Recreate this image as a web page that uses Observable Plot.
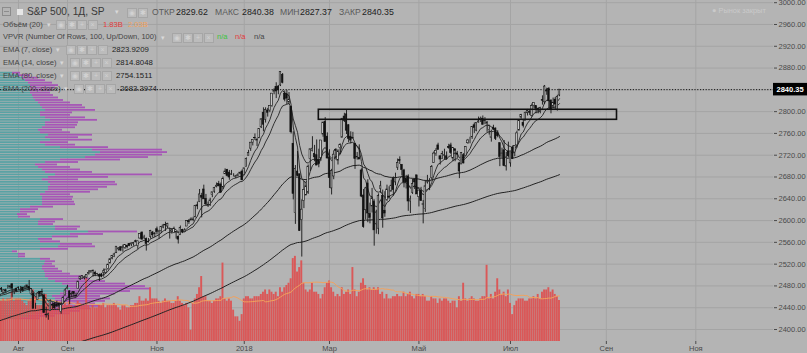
<!DOCTYPE html>
<html><head><meta charset="utf-8">
<script src="https://cdn.jsdelivr.net/npm/d3@7"></script>
<script src="https://cdn.jsdelivr.net/npm/@observablehq/plot@0.6"></script>
<style>
html,body{margin:0;padding:0;background:#b4b4b4;}
#wrap{position:relative;width:807px;height:353px;overflow:hidden;background:#b4b4b4;font-family:"Liberation Sans",Arial,sans-serif;}
#wrap svg{position:absolute;left:0;top:0;}
.t{position:absolute;white-space:nowrap;line-height:1;}
.ic{position:absolute;width:8px;height:8px;border:1px solid #a6a6a6;background:#bcbcbc;color:#d2d2d2;font-size:7px;line-height:8px;text-align:center;}
</style></head><body><div id="wrap"></div>
<script>
// ---------- data ----------
const dates = [
"2017-07-17","2017-07-18","2017-07-19","2017-07-20","2017-07-21","2017-07-24","2017-07-25","2017-07-26","2017-07-27","2017-07-28","2017-07-31",
"2017-08-01","2017-08-02","2017-08-03","2017-08-04","2017-08-07","2017-08-08","2017-08-09","2017-08-10","2017-08-11","2017-08-14","2017-08-15","2017-08-16","2017-08-17","2017-08-18","2017-08-21","2017-08-22","2017-08-23","2017-08-24","2017-08-25","2017-08-28","2017-08-29","2017-08-30","2017-08-31",
"2017-09-01","2017-09-05","2017-09-06","2017-09-07","2017-09-08","2017-09-11","2017-09-12","2017-09-13","2017-09-14","2017-09-15","2017-09-18","2017-09-19","2017-09-20","2017-09-21","2017-09-22","2017-09-25","2017-09-26","2017-09-27","2017-09-28","2017-09-29",
"2017-10-02","2017-10-03","2017-10-04","2017-10-05","2017-10-06","2017-10-09","2017-10-10","2017-10-11","2017-10-12","2017-10-13","2017-10-16","2017-10-17","2017-10-18","2017-10-19","2017-10-20","2017-10-23","2017-10-24","2017-10-25","2017-10-26","2017-10-27","2017-10-30","2017-10-31",
"2017-11-01","2017-11-02","2017-11-03","2017-11-06","2017-11-07","2017-11-08","2017-11-09","2017-11-10","2017-11-13","2017-11-14","2017-11-15","2017-11-16","2017-11-17","2017-11-20","2017-11-21","2017-11-22","2017-11-24","2017-11-27","2017-11-28","2017-11-29","2017-11-30",
"2017-12-01","2017-12-04","2017-12-05","2017-12-06","2017-12-07","2017-12-08","2017-12-11","2017-12-12","2017-12-13","2017-12-14","2017-12-15","2017-12-18","2017-12-19","2017-12-20","2017-12-21","2017-12-22","2017-12-26","2017-12-27","2017-12-28","2017-12-29",
"2018-01-02","2018-01-03","2018-01-04","2018-01-05","2018-01-08","2018-01-09","2018-01-10","2018-01-11","2018-01-12","2018-01-16","2018-01-17","2018-01-18","2018-01-19","2018-01-22","2018-01-23","2018-01-24","2018-01-25","2018-01-26","2018-01-29","2018-01-30","2018-01-31",
"2018-02-01","2018-02-02","2018-02-05","2018-02-06","2018-02-07","2018-02-08","2018-02-09","2018-02-12","2018-02-13","2018-02-14","2018-02-15","2018-02-16","2018-02-20","2018-02-21","2018-02-22","2018-02-23","2018-02-26","2018-02-27","2018-02-28",
"2018-03-01","2018-03-02","2018-03-05","2018-03-06","2018-03-07","2018-03-08","2018-03-09","2018-03-12","2018-03-13","2018-03-14","2018-03-15","2018-03-16","2018-03-19","2018-03-20","2018-03-21","2018-03-22","2018-03-23","2018-03-26","2018-03-27","2018-03-28","2018-03-29",
"2018-04-02","2018-04-03","2018-04-04","2018-04-05","2018-04-06","2018-04-09","2018-04-10","2018-04-11","2018-04-12","2018-04-13","2018-04-16","2018-04-17","2018-04-18","2018-04-19","2018-04-20","2018-04-23","2018-04-24","2018-04-25","2018-04-26","2018-04-27","2018-04-30",
"2018-05-01","2018-05-02","2018-05-03","2018-05-04","2018-05-07","2018-05-08","2018-05-09","2018-05-10","2018-05-11","2018-05-14","2018-05-15","2018-05-16","2018-05-17","2018-05-18","2018-05-21","2018-05-22","2018-05-23","2018-05-24","2018-05-25","2018-05-29","2018-05-30","2018-05-31",
"2018-06-01","2018-06-04","2018-06-05","2018-06-06","2018-06-07","2018-06-08","2018-06-11","2018-06-12","2018-06-13","2018-06-14","2018-06-15","2018-06-18","2018-06-19","2018-06-20","2018-06-21","2018-06-22","2018-06-25","2018-06-26","2018-06-27","2018-06-28","2018-06-29",
"2018-07-02","2018-07-03","2018-07-05","2018-07-06","2018-07-09","2018-07-10","2018-07-11","2018-07-12","2018-07-13","2018-07-16","2018-07-17","2018-07-18","2018-07-19","2018-07-20","2018-07-23","2018-07-24","2018-07-25","2018-07-26","2018-07-27","2018-07-30","2018-07-31",
"2018-08-01","2018-08-02","2018-08-03"];
const open = [
2459,2455,2463,2475,2467,2472,2477,2479,2483,2469,2475,
2477,2478,2477,2476,2477,2478,2465,2466,2441,2454,2469,2469,2462,2427,2426,2434,2445,2447,2446,2447,2432,2447,2462,
2474,2470,2464,2469,2462,2474,2492,2493,2494,2495,2502,2506,2507,2504,2498,2500,2501,2504,2504,2511,
2521,2530,2533,2540,2547,2551,2550,2550,2553,2557,2556,2557,2562,2553,2567,2578,2568,2566,2561,2570,2578,2576,
2584,2579,2581,2587,2592,2589,2585,2580,2577,2577,2570,2573,2583,2579,2589,2599,2600,2602,2606,2628,2634,
2645,2657,2640,2627,2628,2647,2653,2662,2667,2666,2661,2685,2693,2688,2684,2683,2680,2682,2686,2690,
2684,2698,2719,2732,2743,2752,2746,2751,2771,2798,2785,2802,2802,2810,2836,2845,2846,2848,2867,2833,2832,
2817,2809,2741,2614,2690,2685,2601,2636,2646,2651,2713,2728,2722,2720,2711,2715,2758,2781,2754,
2716,2659,2681,2730,2710,2733,2752,2791,2795,2775,2754,2751,2741,2716,2715,2692,2646,2619,2668,2612,2626,
2634,2593,2585,2658,2645,2618,2638,2644,2653,2676,2670,2697,2711,2702,2692,2676,2681,2635,2651,2675,2683,
2643,2654,2629,2621,2670,2671,2678,2706,2723,2738,2718,2713,2719,2718,2735,2738,2714,2731,2723,2705,2703,2720,
2719,2742,2749,2753,2775,2765,2780,2785,2787,2784,2778,2766,2752,2770,2769,2760,2742,2722,2729,2699,2727,
2705,2734,2725,2738,2765,2789,2779,2783,2797,2799,2792,2811,2810,2805,2800,2821,2817,2839,2842,2820,2809,
2822,2803,2829.62];
const high = [
2462,2461,2474,2477,2473,2474,2481,2480,2484,2474,2476,
2478,2479,2477,2480,2481,2490,2475,2466,2448,2468,2469,2474,2465,2441,2430,2454,2449,2450,2452,2449,2449,2461,2475,
2481,2471,2469,2469,2467,2488,2497,2498,2498,2500,2508,2508,2509,2507,2503,2502,2503,2511,2510,2520,
2530,2535,2540,2552,2550,2552,2555,2555,2555,2558,2559,2560,2564,2562,2576,2579,2573,2568,2567,2582,2580,2578,
2588,2582,2588,2593,2597,2595,2586,2585,2588,2580,2572,2590,2584,2585,2600,2602,2605,2606,2628,2634,2657,
2650,2665,2648,2634,2641,2652,2661,2669,2672,2669,2680,2695,2694,2692,2692,2686,2683,2686,2688,2693,
2696,2715,2729,2743,2748,2759,2751,2768,2787,2807,2807,2806,2810,2833,2842,2853,2848,2873,2870,2838,2839,
2835,2809,2763,2701,2727,2685,2638,2672,2669,2702,2731,2754,2738,2748,2731,2747,2780,2789,2761,
2730,2694,2728,2732,2730,2741,2787,2797,2802,2776,2763,2762,2741,2725,2739,2695,2657,2661,2675,2632,2659,
2638,2619,2649,2672,2656,2653,2665,2662,2674,2680,2687,2713,2717,2703,2694,2683,2684,2645,2676,2677,2683,
2655,2661,2637,2673,2683,2677,2701,2726,2732,2742,2719,2727,2731,2726,2740,2742,2733,2731,2727,2707,2725,2723,
2736,2749,2753,2772,2779,2779,2790,2790,2792,2789,2782,2775,2766,2775,2770,2765,2743,2733,2747,2725,2744,
2727,2737,2737,2764,2784,2795,2785,2799,2804,2802,2814,2816,2810,2807,2808,2829,2848,2843,2844,2822,2825,
2826,2830,2840.38];
const low = [
2454,2450,2463,2468,2465,2467,2474,2474,2459,2464,2468,
2472,2466,2468,2473,2475,2470,2462,2438,2437,2454,2459,2460,2430,2421,2417,2434,2437,2437,2440,2439,2428,2446,2462,
2473,2446,2458,2459,2459,2474,2490,2492,2491,2493,2500,2503,2496,2497,2497,2488,2495,2496,2502,2509,
2521,2528,2532,2540,2544,2543,2542,2547,2548,2552,2552,2553,2559,2547,2566,2564,2565,2544,2559,2566,2568,2569,
2574,2566,2576,2585,2580,2585,2566,2575,2576,2566,2557,2573,2576,2578,2589,2593,2600,2598,2605,2620,2633,
2605,2639,2627,2624,2626,2642,2650,2660,2662,2650,2657,2685,2680,2674,2683,2680,2677,2680,2684,2673,
2683,2698,2719,2727,2737,2747,2736,2751,2769,2763,2779,2790,2798,2808,2831,2824,2831,2846,2851,2818,2813,
2813,2759,2638,2593,2681,2580,2533,2622,2646,2648,2690,2726,2708,2701,2697,2709,2753,2744,2713,
2659,2647,2675,2711,2702,2721,2752,2780,2758,2743,2741,2750,2694,2711,2712,2642,2586,2601,2596,2594,2614,
2553,2575,2574,2650,2586,2606,2635,2639,2653,2645,2664,2692,2703,2682,2660,2658,2617,2613,2648,2657,2648,
2625,2635,2594,2615,2667,2655,2674,2705,2718,2729,2702,2712,2711,2711,2731,2721,2708,2708,2714,2677,2703,2704,
2719,2740,2741,2749,2760,2763,2779,2780,2775,2776,2762,2757,2744,2765,2747,2752,2699,2715,2699,2691,2715,
2698,2712,2717,2733,2765,2786,2770,2783,2792,2793,2790,2806,2796,2796,2796,2812,2813,2830,2805,2796,2805,
2804,2801,2827.37];
const close = [
2459,2461,2474,2473,2472,2470,2477,2478,2475,2472,2470,
2476,2478,2472,2477,2481,2475,2474,2438,2441,2466,2465,2468,2430,2426,2428,2453,2444,2439,2443,2444,2446,2458,2472,
2477,2458,2465,2465,2461,2488,2497,2498,2496,2500,2504,2507,2508,2501,2502,2497,2497,2507,2510,2519,
2529,2535,2538,2552,2549,2545,2551,2555,2551,2553,2558,2559,2561,2562,2575,2565,2569,2557,2560,2581,2573,2575,
2579,2580,2588,2591,2591,2594,2585,2582,2585,2579,2565,2586,2579,2582,2599,2597,2602,2601,2627,2626,2648,
2642,2639,2630,2629,2637,2652,2660,2664,2663,2652,2676,2690,2682,2679,2685,2683,2681,2683,2688,2674,
2696,2713,2724,2743,2748,2751,2748,2768,2786,2776,2803,2798,2810,2833,2839,2837,2839,2873,2853,2822,2824,
2822,2762,2649,2695,2682,2581,2620,2656,2663,2699,2731,2732,2716,2701,2704,2747,2780,2744,2714,
2678,2691,2721,2728,2727,2739,2787,2783,2765,2750,2747,2752,2713,2717,2712,2644,2588,2659,2613,2605,2641,
2582,2615,2645,2663,2604,2613,2657,2642,2664,2656,2678,2706,2709,2693,2670,2670,2635,2639,2667,2670,2648,
2655,2636,2630,2663,2673,2672,2698,2723,2728,2730,2712,2722,2720,2713,2733,2724,2733,2728,2721,2690,2724,2705,
2735,2747,2749,2772,2770,2779,2782,2787,2776,2783,2780,2774,2763,2767,2750,2755,2717,2723,2700,2716,2718,
2727,2713,2737,2760,2784,2794,2774,2798,2801,2798,2810,2816,2805,2802,2807,2820,2846,2837,2819,2803,2816,
2813,2827,2840.35];
// volume, billions
const volume = [
1.8,1.9,1.9,1.8,1.9,1.8,1.9,1.9,2.2,1.8,1.9,
1.9,1.9,1.8,1.7,1.6,1.8,1.9,2.3,2.0,1.6,1.6,1.6,2.1,2.1,1.7,1.6,1.6,1.6,1.4,1.5,1.5,1.6,1.7,
1.6,1.8,1.6,1.5,1.6,1.8,1.7,1.6,1.6,2.8,1.6,1.5,1.6,1.5,1.5,1.6,1.6,1.7,1.5,1.6,
1.6,1.6,1.7,1.6,1.5,1.4,1.6,1.6,1.5,1.5,1.6,1.6,1.7,1.7,2.0,1.8,1.8,1.9,1.8,2.4,1.9,1.9,
1.9,1.8,1.7,1.8,1.9,1.8,1.8,1.7,1.7,1.8,2.0,1.8,1.7,1.6,1.7,1.5,0.5,1.7,1.9,2.1,2.4,
2.9,2.0,2.0,1.8,1.8,1.7,1.8,1.9,1.9,2.0,3.5,1.9,1.8,1.9,1.8,1.4,1.1,1.1,0.9,1.2,
1.9,2.0,2.0,1.9,1.9,2.0,2.0,2.0,2.1,2.2,2.3,2.1,2.3,2.2,2.1,2.2,2.0,2.4,2.2,2.4,2.5,
2.6,2.8,3.7,3.8,3.1,3.3,3.6,2.6,2.3,2.2,2.3,2.6,2.2,2.2,2.1,1.9,2.1,2.4,2.6,
2.7,2.4,2.2,2.0,2.1,2.0,2.4,2.1,2.2,2.3,2.1,3.3,2.3,2.0,2.2,2.6,2.8,2.5,2.3,2.4,2.3,
2.4,2.3,2.4,2.1,2.2,1.9,2.1,1.9,1.9,2.0,2.0,2.1,2.0,2.0,2.2,2.0,2.1,2.2,2.0,1.9,2.1,
2.1,2.0,2.1,2.0,1.8,1.8,2.0,1.9,1.9,1.7,1.9,1.8,1.9,1.9,1.8,1.7,1.8,1.8,1.5,2.0,1.8,2.6,
1.9,1.8,1.9,2.0,1.9,1.8,1.8,1.9,2.0,2.0,3.4,1.9,2.1,1.9,2.2,2.8,2.3,2.1,2.2,2.0,2.3,
1.7,1.2,1.6,1.8,1.9,1.9,1.9,1.8,1.8,1.9,1.9,2.0,1.9,2.1,1.9,2.2,2.3,2.3,2.4,2.2,2.3,
2.1,2.0,1.83];
// EMA values at the left edge of the chart
const ema80Start = 2412, ema200Start = 2334;
// Volume profile (VPVR, 100 rows from lowest low to highest high), relative units
const vpLow = 2417.35, vpHigh = 2872.87;
const vpUp = [20,28,35,40,48,52,50,55,55,52,60,65,70,68,62,55,48,45,45,44,42,42,44,45,40,18,18,12,40,58,
60,40,38,52,70,88,55,55,38,38,40,18,17,20,20,30,42,42,42,42,40,45,48,48,50,48,42,48,55,45,
42,38,35,45,60,85,95,100,92,60,45,40,50,45,48,40,38,42,45,45,50,45,40,40,45,42,40,38,35,33,
32,30,30,30,30,28,25,22,18,12];
const vpDown = [20,27,35,40,42,48,45,50,55,48,55,65,80,77,63,50,42,38,25,18,16,13,8,10,10,7,7,5,28,37,
32,20,14,26,33,49,22,25,15,17,23,12,10,15,18,23,33,32,30,31,30,45,50,59,67,67,36,60,97,47,
38,32,22,33,60,63,67,67,70,48,30,28,42,33,44,30,24,33,32,33,47,40,30,32,50,43,42,32,28,25,
21,20,22,25,28,24,20,16,12,8];
// axes
const gridPrices = [2400,2440,2480,2520,2560,2600,2640,2680,2720,2760,2800,2840,2880,2920,2960,3000];
const priceLabels = [2400,2440,2480,2520,2560,2600,2640,2680,2720,2760,2800,2880,2920,2960,3000];
const xTickDates = ["2017-08-01","2017-09-01","2017-11-01","2018-01-02","2018-03-01","2018-05-01","2018-07-02","2018-09-04","2018-11-01"];
const xTickLabels = ["Авг","Сен","Ноя","2018","Мар","Май","Июл","Сен","Ноя"];
// drawn rectangle (resistance zone)
const zoneStart = "2018-02-22", zoneEnd = "2018-09-11", zoneLow = 2785, zoneHigh = 2803.4;
const lastClose = 2840.35;

// ---------- helpers ----------
const n = dates.length;
function barIndex(s){
  const k = dates.indexOf(s); if (k >= 0) return k;
  let t = new Date(dates[n-1] + "T00:00Z"), end = new Date(s + "T00:00Z"), idx = n - 1;
  while (t < end) { t = new Date(t.getTime() + 864e5); const wd = t.getUTCDay(); if (wd !== 0 && wd !== 6) idx++; }
  return idx;
}
function ema(arr, p, seed){ const a = 2/(p+1); let e = seed; return arr.map(v => (e = e + a*(v - e))); }
const e7 = ema(close, 7, close[0]), e14 = ema(close, 14, close[0]);
const e80 = ema(close, 80, ema80Start), e200 = ema(close, 200, ema200Start);
const bars = dates.map((d,i) => {
  const w = volume.slice(Math.max(0,i-19), i+1);
  return {i, o:open[i], h:high[i], l:low[i], c:close[i], v:volume[i], vma:d3.mean(w), e7:e7[i], e14:e14[i], e80:e80[i], e200:e200[i]};
});
const step = (vpHigh - vpLow)/vpUp.length;
const rows = vpUp.map((u,k) => ({lo: vpLow + k*step, hi: vpLow + (k+1)*step, up: u, dn: vpDown[k]}));
const xTickIdx = xTickDates.map(barIndex);
const labelMap = new Map(xTickIdx.map((x,k) => [x, xTickLabels[k]]));
const zone = {x1: barIndex(zoneStart), x2: barIndex(zoneEnd), y1: zoneLow, y2: zoneHigh};

const xDom = [2.542, 365.48], yDom = [2377.97, 3004.04];
const common = {width:807, height:353, marginLeft:0, marginRight:34, marginTop:0, marginBottom:12};
const font = "Liberation Sans, Arial, sans-serif";

const base = Plot.plot({...common, x:{domain:xDom}, y:{domain:yDom},
  style:{background:"#b4b4b4", fontFamily:font},
  marks:[
    Plot.gridY(gridPrices, {stroke:"#a4a4a4", strokeOpacity:1}),
    Plot.gridX(xTickIdx, {stroke:"#a4a4a4", strokeOpacity:1}),
    Plot.axisY(priceLabels, {anchor:"right", tickSize:3, tickPadding:2, fontSize:7.5, tickFormat:d=>d.toFixed(2), color:"#4a4a4a", label:null}),
    Plot.axisX(xTickIdx, {anchor:"bottom", tickSize:3, tickPadding:1, fontSize:7.5, tickFormat:d=>labelMap.get(d), color:"#4a4a4a", label:null}),
  ]});

const profile = Plot.plot({...common, x:{domain:[0,773], axis:null}, y:{domain:yDom, axis:null}, style:{background:"transparent"},
  marks:[
    Plot.rect(rows, {x1:()=>0, x2:"up", y1:"lo", y2:"hi", fill:"#58a2a4", insetTop:0.35, insetBottom:0.35}),
    Plot.rect(rows, {x1:"up", x2:d=>d.up+d.dn, y1:"lo", y2:"hi", fill:"#a656b6", insetTop:0.35, insetBottom:0.35}),
  ]});

const vol = Plot.plot({...common, x:{domain:xDom, axis:null}, y:{domain:[0,15.22], axis:null}, style:{background:"transparent"},
  marks:[
    Plot.rect(bars, {x1:d=>d.i-0.45, x2:d=>d.i+0.45, y1:()=>0, y2:"v", fill:"#dd5151", fillOpacity:0.93, clip:true}),
    Plot.line(bars, {x:"i", y:"vma", stroke:"#f3a25c", strokeWidth:1, clip:true}),
  ]});

const up = bars.filter(d => d.c >= d.o), dn = bars.filter(d => d.c < d.o);
const price = Plot.plot({...common, x:{domain:xDom, axis:null}, y:{domain:yDom, axis:null}, style:{background:"transparent", fontFamily:font},
  marks:[
    Plot.ruleY([lastClose], {stroke:"#111", strokeDasharray:"1.2,1.6", strokeWidth:1}),
    Plot.line(bars, {x:"i", y:"e200", stroke:"#222", strokeWidth:1, clip:true}),
    Plot.line(bars, {x:"i", y:"e80", stroke:"#222", strokeWidth:1, clip:true}),
    Plot.line(bars, {x:"i", y:"e14", stroke:"#222", strokeWidth:0.9, clip:true}),
    Plot.line(bars, {x:"i", y:"e7", stroke:"#222", strokeWidth:0.9, clip:true}),
    Plot.ruleX(bars, {x:"i", y1:"l", y2:"h", stroke:"#151515", strokeWidth:0.9, clip:true}),
    Plot.rect(up, {x1:d=>d.i-0.36, x2:d=>d.i+0.36, y1:"o", y2:"c", fill:"#d8d8d8", stroke:"#151515", strokeWidth:0.6, clip:true}),
    Plot.rect(dn, {x1:d=>d.i-0.36, x2:d=>d.i+0.36, y1:"o", y2:"c", fill:"#111", stroke:"#111", strokeWidth:0.6, clip:true}),
    Plot.rect([zone], {x1:"x1", x2:"x2", y1:"y1", y2:"y2", fill:"none", stroke:"#111", strokeWidth:1.6}),
    Plot.rect([lastClose], {x1:()=>xDom[1], x2:()=>xDom[1]+16, y1:d=>d-11.5, y2:d=>d+11.5, fill:"#000"}),
    Plot.text([lastClose], {x:()=>xDom[1], y:d=>d, dx:3, text:d=>d.toFixed(2), textAnchor:"start", fill:"#fff", fontSize:7.5, fontWeight:"bold"}),
  ]});

const wrap = document.getElementById("wrap");
[base, profile, vol, price].forEach(s => wrap.appendChild(s));

// ---------- legend ----------
function t(text, left, cy, size, color, weight){
  const el = document.createElement("div"); el.className = "t"; el.textContent = text;
  el.style.left = left + "px"; el.style.top = (cy - size*0.55) + "px"; el.style.fontSize = size + "px"; el.style.color = color;
  if (weight) el.style.fontWeight = weight; wrap.appendChild(el); return el;
}
function icons(left, cy, count){
  const sym = ["◉","✱","+","×"];
  for (let k=0;k<count;k++){ const el=document.createElement("div"); el.className="ic"; el.textContent=sym[k%4];
    el.style.left=(left+k*10.5)+"px"; el.style.top=(cy-5)+"px"; wrap.appendChild(el); }
}
function caret(left, cy){ t("▾", left, cy, 7, "#d9d9d9"); }
// row 1
(function(){ const b=document.createElement("div"); b.style.cssText="position:absolute;left:2px;top:7px;width:7px;height:7px;border:1px solid #8c8c8c;";
  const m=document.createElement("div"); m.style.cssText="position:absolute;left:1px;top:3px;width:5px;height:1px;background:#8c8c8c;"; b.appendChild(m); wrap.appendChild(b);
  const s=document.createElement("div"); s.style.cssText="position:absolute;left:17px;top:9px;width:6px;height:6px;background:#e6e6e6;"; wrap.appendChild(s); })();
t("S&P 500, 1Д, SP", 27, 12.5, 10.2, "#3a3a3a");
caret(115, 12); icons(127, 12.5, 2);
t("ОТКР", 152, 12.5, 8.6, "#5a5a5a"); t("2829.62", 176, 12.5, 8.8, "#222");
t("МАКС", 215, 12.5, 8.6, "#5a5a5a"); t("2840.38", 242, 12.5, 8.8, "#222");
t("МИН", 280, 12.5, 8.6, "#5a5a5a"); t("2827.37", 300, 12.5, 8.8, "#222");
t("ЗАКР", 339, 12.5, 8.6, "#5a5a5a"); t("2840.35", 362, 12.5, 8.8, "#222");
// row 2
t("Объём (20)", 3, 25, 7.6, "#444"); caret(47, 25); icons(56, 25, 4);
t("1.83B", 103, 25, 7.6, "#e23a3a"); t("2.03B", 128, 25, 7.6, "#f3a25c");
// row 3
t("VPVR (Number Of Rows, 100, Up/Down, 100)", 3, 37.5, 7.5, "#444"); caret(161, 37.5); icons(172, 37.5, 4);
t("n/a", 217, 37.5, 7.6, "#3cc43c"); t("n/a", 235, 37.5, 7.6, "#e23a3a"); t("n/a", 254, 37.5, 7.6, "#444");
// EMA rows
t("EMA (7, close)", 3, 50, 7.6, "#444"); caret(56, 50); icons(66, 50, 4); t("2823.9209", 112, 50, 7.8, "#222");
t("EMA (14, close)", 3, 63, 7.6, "#444"); caret(60, 63); icons(70, 63, 4); t("2814.8048", 116, 63, 7.8, "#222");
t("EMA (80, close)", 3, 76, 7.6, "#444"); caret(60, 76); icons(70, 76, 4); t("2754.1511", 116, 76, 7.8, "#222");
t("EMA (200, close)", 3, 89, 7.6, "#444"); caret(64, 89); icons(74, 89, 4); t("2683.3974", 120, 89, 7.8, "#222");
t("● Рынок закрыт", 712, 11, 7.4, "#cacaca");
</script></body></html>
